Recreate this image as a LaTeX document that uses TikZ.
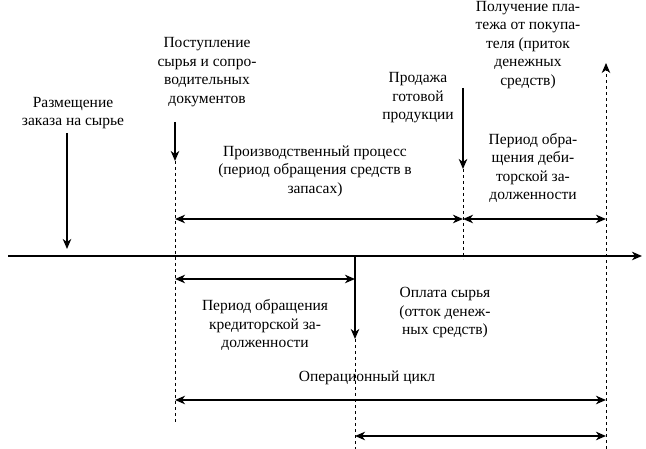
\documentclass[tikz,border=0pt]{standalone}
\usepackage{fontspec}
\setmainfont{Liberation Serif}
\usetikzlibrary{arrows.meta}
\begin{document}
\begin{tikzpicture}[x=1pt,y=-1pt,
  lbl/.style={align=center,inner sep=0pt,font=\fontsize{15.5}{18.5}\selectfont},
  solidln/.style={line width=1.3pt},
  dashln/.style={line width=1pt,dash pattern=on 3pt off 3pt},
  tip/.style={-{Stealth[length=10pt,width=8.5pt,inset=3pt]}},
  tips/.style={{Stealth[length=10pt,width=8.5pt,inset=3pt]}-{Stealth[length=10pt,width=8.5pt,inset=3pt]}}]
\useasboundingbox (0,0) rectangle (646,449);
% timeline
\coordinate (tl) at (8,256);
\coordinate (tr) at (642,256);
\draw[solidln,tip] (tl) -- (tr);
% points
\coordinate (a1t) at (67,133); \coordinate (a1b) at (67,249);
\coordinate (a2t) at (175,122); \coordinate (a2h) at (175,161); \coordinate (a2e) at (175,422);
\coordinate (a3t) at (463,88); \coordinate (a3h) at (463,169); \coordinate (a3e) at (463,259);
\coordinate (a4t) at (606,63); \coordinate (a4e) at (606,449);
\coordinate (a5t) at (355,256); \coordinate (a5h) at (355,339); \coordinate (a5e) at (355,449);
% vertical arrows
\draw[solidln,tip] (a1t) -- (a1b);
\draw[solidln,tip] (a2t) -- (a2h);
\draw[dashln] (a2h) -- (a2e);
\draw[solidln,tip] (a3t) -- (a3h);
\draw[dashln] (a3h) -- (a3e);
\draw[dashln,tip] (a4e) -- (a4t);
\draw[solidln,tip] (a5t) -- (a5h);
\draw[dashln] (a5h) -- (a5e);
% horizontal spans
\coordinate (p1l) at (175,219); \coordinate (p1r) at (463,219);
\coordinate (p2l) at (463,219); \coordinate (p2r) at (606,219);
\coordinate (p3l) at (175,279); \coordinate (p3r) at (355,279);
\coordinate (p4l) at (175,400); \coordinate (p4r) at (606,400);
\coordinate (p5l) at (355,436); \coordinate (p5r) at (606,436);
\draw[solidln,tips] (p1l) -- (p1r);
\draw[solidln,tips] (p2l) -- (p2r);
\draw[solidln,tips] (p3l) -- (p3r);
\draw[solidln,tips] (p4l) -- (p4r);
\draw[solidln,tips] (p5l) -- (p5r);
% labels
\node[lbl] (t1) at (73,113) {Размещение\\заказа на сырье};
\node[lbl] (t2) at (207,72) {Поступление\\сырья и сопро-\\водительных\\документов};
\node[lbl] (t3) at (418,98) {Продажа\\готовой\\продукции};
\node[lbl] (t4) at (528,45) {Получение пла-\\тежа от покупа-\\теля (приток\\денежных\\средств)};
\node[lbl] (t5) at (315,171) {Производственный процесс\\(период обращения средств в\\запасах)};
\node[lbl] (t6) at (533,168) {Период обра-\\щения деби-\\торской за-\\долженности};
\node[lbl] (t7) at (265,325) {Период обращения\\кредиторской за-\\долженности};
\node[lbl] (t8) at (445,313) {Оплата сырья\\(отток денеж-\\ных средств)};
\node[lbl] (t9) at (367,378) {Операционный цикл};
\end{tikzpicture}
\end{document}
